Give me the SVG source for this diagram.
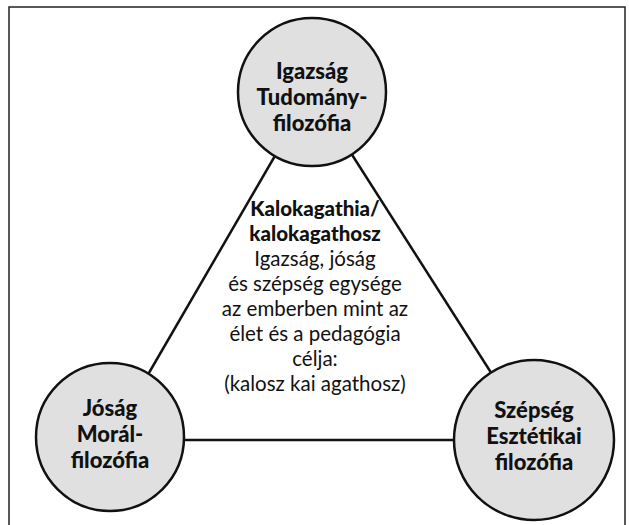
<svg xmlns="http://www.w3.org/2000/svg" width="629" height="525" viewBox="0 0 629 525">
<style>
.node{fill:#e0e0e0;stroke:#111;stroke-width:2.5}
.lbl{font-family:Lato,"Noto Sans",sans-serif;font-weight:900;font-size:22px;fill:#111;text-anchor:middle}
.ctr{font-family:Lato,"Noto Sans",sans-serif;font-size:20.5px;fill:#111;text-anchor:middle}
.ctrb{font-weight:900}
.conn{stroke:#111;stroke-width:2.5;fill:none}
</style>
<rect x="9" y="7" width="616" height="530" fill="#fff" stroke="#222" stroke-width="1.5"/>
<g id="connectors">
<line class="conn" x1="312" y1="92" x2="110" y2="440"/>
<line class="conn" x1="312" y1="92" x2="534" y2="440"/>
<line class="conn" x1="110" y1="440" x2="534" y2="440"/>
</g>
<g id="igazsag">
<circle class="node" cx="312" cy="92" r="74"/>
<text class="lbl" x="312" y="79">Igazság</text>
<text class="lbl" x="312" y="105">Tudomány-</text>
<text class="lbl" x="312" y="131">filozófia</text>
</g>
<g id="josag">
<circle class="node" cx="110" cy="437" r="74"/>
<text class="lbl" x="110" y="416">Jóság</text>
<text class="lbl" x="110" y="442">Morál-</text>
<text class="lbl" x="110" y="468">filozófia</text>
</g>
<g id="szepseg">
<circle class="node" cx="534" cy="440" r="80"/>
<text class="lbl" x="534" y="418">Szépség</text>
<text class="lbl" x="534" y="444">Esztétikai</text>
<text class="lbl" x="534" y="470">filozófia</text>
</g>
<g id="center">
<text class="ctr ctrb" x="315" y="216">Kalokagathia/</text>
<text class="ctr ctrb" x="315" y="241">kalokagathosz</text>
<text class="ctr" x="315" y="266">Igazság, jóság</text>
<text class="ctr" x="315" y="291">és szépség egysége</text>
<text class="ctr" x="315" y="316">az emberben mint az</text>
<text class="ctr" x="315" y="341">élet és a pedagógia</text>
<text class="ctr" x="315" y="366">célja:</text>
<text class="ctr" x="315" y="391">(kalosz kai agathosz)</text>
</g>
</svg>
